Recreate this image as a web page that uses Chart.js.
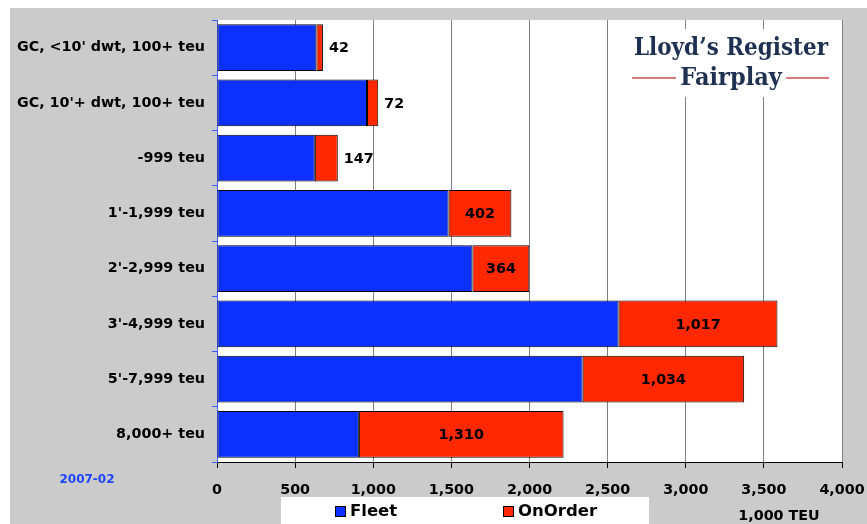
<!DOCTYPE html>
<html>
<head>
<meta charset="utf-8">
<script src="https://cdn.jsdelivr.net/npm/chart.js@4.4.1/dist/chart.umd.min.js"></script>
<style>
  body { margin: 0; background: #fff; }
  canvas { display: block; }
</style>
</head>
<body>
<canvas id="fleetChart" width="867" height="524"></canvas>
<script>
// Containership fleet and orderbook by size band (1,000 TEU)
let sizeBands = [
  "GC, <10' dwt, 100+ teu",
  "GC, 10'+ dwt, 100+ teu",
  "-999 teu",
  "1'-1,999 teu",
  "2'-2,999 teu",
  "3'-4,999 teu",
  "5'-7,999 teu",
  "8,000+ teu"
];
let fleetTeu = [636, 960, 626, 1482, 1635, 2570, 2340, 908];
let onOrderTeu = [42, 72, 147, 402, 364, 1017, 1034, 1310];
let axisMax = 4000;
let axisStep = 500;

let blue = "#0c30ff";
let red = "#ff2800";
let gray = "#cbcbcb";
let font = "DejaVu Sans";

Chart.defaults.font.family = font;
Chart.defaults.font.weight = "bold";
Chart.defaults.font.size = 14.3;
Chart.defaults.color = "#000";

// gray frame, white plot area
let backgroundPlugin = {
  id: "background",
  beforeDraw(chart) {
    let ctx = chart.ctx;
    let a = chart.chartArea;
    ctx.save();
    ctx.fillStyle = "#fff";
    ctx.fillRect(0, 0, chart.width, chart.height);
    ctx.fillStyle = gray;
    ctx.fillRect(10, 8, chart.width - 10, chart.height - 8);
    ctx.fillStyle = "#fff";
    ctx.fillRect(a.left, a.top, a.right - a.left, a.bottom - a.top);
    ctx.restore();
  }
};

// OnOrder values next to / inside the red segments
let valueLabels = {
  id: "valueLabels",
  afterDatasetsDraw(chart) {
    let ctx = chart.ctx;
    let meta = chart.getDatasetMeta(1);
    ctx.save();
    ctx.font = "bold 14.3px '" + font + "'";
    ctx.fillStyle = "#000";
    ctx.textBaseline = "middle";
    meta.data.forEach(function (bar, i) {
      let v = chart.data.datasets[1].data[i];
      let txt = v.toLocaleString("en-US");
      let w = bar.x - bar.base;
      if (w > 40) {
        ctx.textAlign = "center";
        ctx.fillText(txt, (bar.x + bar.base) / 2, bar.y + 1);
      } else {
        ctx.textAlign = "left";
        ctx.fillText(txt, bar.x + 6, bar.y + 1);
      }
    });
    ctx.restore();
  }
};

// logo, legend box and side notes
let decorations = {
  id: "decorations",
  afterDraw(chart) {
    let ctx = chart.ctx;
    ctx.save();

    // logo
    ctx.fillStyle = "#fff";
    ctx.fillRect(630, 29, 201, 68);
    ctx.fillStyle = "#1e3152";
    ctx.textBaseline = "alphabetic";
    ctx.textAlign = "center";
    ctx.font = "bold 25px 'DejaVu Serif'";
    ctx.save();
    ctx.translate(731, 55);
    ctx.scale(0.86, 1);
    ctx.fillText("Lloyd\u2019s Register", 0, 0);
    ctx.restore();
    ctx.save();
    ctx.translate(731, 85);
    ctx.scale(0.9, 1);
    ctx.fillText("Fairplay", 0, 0);
    ctx.restore();
    ctx.strokeStyle = "#d9797a";
    ctx.lineWidth = 2;
    ctx.beginPath();
    ctx.moveTo(632, 78); ctx.lineTo(676, 78);
    ctx.moveTo(786, 78); ctx.lineTo(829, 78);
    ctx.stroke();

    // legend
    ctx.fillStyle = "#fff";
    ctx.fillRect(281, 497, 368, 27);
    let legendX = [335, 503];
    chart.data.datasets.forEach(function (ds, i) {
      let x = legendX[i];
      ctx.fillStyle = ds.backgroundColor;
      ctx.fillRect(x, 506, 11, 11);
      ctx.strokeStyle = "#000";
      ctx.lineWidth = 1;
      ctx.strokeRect(x + 0.5, 506.5, 10, 10);
      ctx.fillStyle = "#000";
      ctx.textAlign = "left";
      ctx.textBaseline = "middle";
      ctx.font = "bold 16.5px '" + font + "'";
      ctx.fillText(ds.label, x + 15, 512);
    });

    // unit and date
    ctx.font = "bold 14.3px '" + font + "'";
    ctx.textAlign = "center";
    ctx.fillText("1,000 TEU", 779, 516);
    ctx.fillStyle = "#1f45ff";
    ctx.font = "bold 12px '" + font + "'";
    ctx.fillText("2007-02", 87, 480);

    ctx.restore();
  }
};

new Chart(document.getElementById("fleetChart"), {
  type: "bar",
  data: {
    labels: sizeBands,
    datasets: [
      {
        label: "Fleet",
        data: fleetTeu,
        backgroundColor: blue,
        borderColor: "#000",
        borderWidth: 1,
        borderSkipped: false,
        barPercentage: 0.85,
        categoryPercentage: 1
      },
      {
        label: "OnOrder",
        data: onOrderTeu,
        backgroundColor: red,
        borderColor: "#000",
        borderWidth: 1,
        borderSkipped: false,
        barPercentage: 0.85,
        categoryPercentage: 1
      }
    ]
  },
  options: {
    indexAxis: "y",
    responsive: false,
    animation: false,
    layout: { padding: { left: 10, top: 20, right: 25, bottom: 0 } },
    plugins: {
      legend: { display: false },
      tooltip: { enabled: false }
    },
    scales: {
      x: {
        stacked: true,
        min: 0,
        max: axisMax,
        ticks: { stepSize: axisStep, padding: 14, maxRotation: 0 },
        grid: {
          color: function (c) { return c.tick && c.tick.value === 0 ? "rgba(0,0,0,0)" : "#808080"; },
          tickColor: "#000",
          tickLength: 6
        },
        border: { color: "#000", width: 1 },
        afterFit: function (scale) {
          scale.height = 62;
          scale.paddingLeft = 0;
          scale.paddingRight = 0;
        }
      },
      y: {
        stacked: true,
        ticks: { padding: 7 },
        grid: {
          drawOnChartArea: false,
          color: "#3c5cff",
          tickLength: 5
        },
        border: { color: "#3c5cff", width: 1 },
        afterFit: function (scale) { scale.width = 207; }
      }
    }
  },
  plugins: [backgroundPlugin, valueLabels, decorations]
});
</script>
</body>
</html>
